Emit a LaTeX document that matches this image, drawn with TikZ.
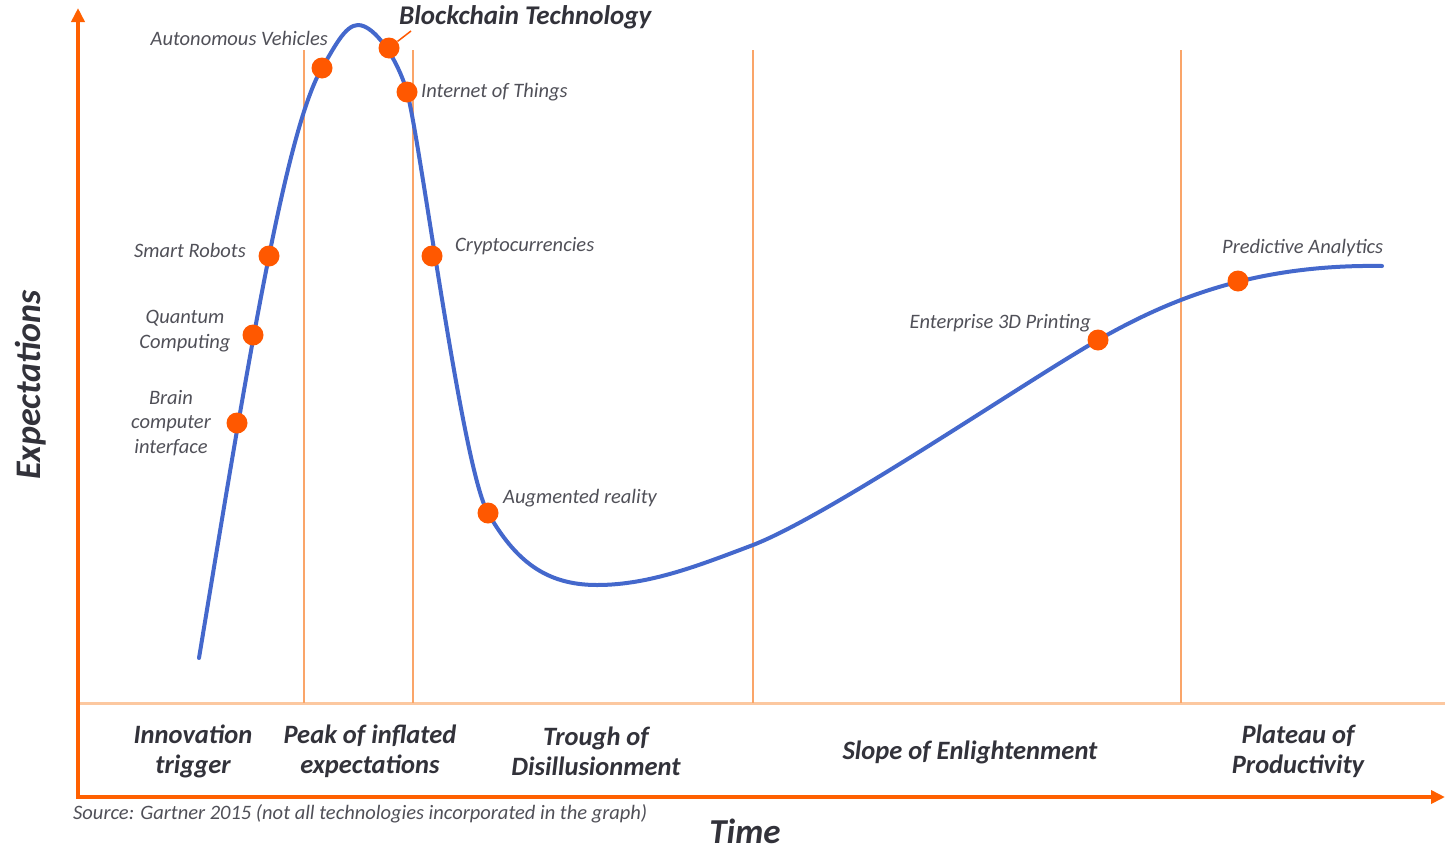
\documentclass[tikz,border=0pt]{standalone}
\usepackage{fontspec}
\setmainfont{Carlito}
\usetikzlibrary{arrows.meta}
\definecolor{curveblue}{RGB}{68,104,204}
\definecolor{dotorange}{RGB}{255,88,0}
\definecolor{axisorange}{RGB}{255,96,0}
\definecolor{phaseline}{RGB}{250,165,105}
\definecolor{baseline}{RGB}{252,200,160}
\definecolor{labelgray}{RGB}{80,80,88}
\definecolor{darkgray}{RGB}{50,50,58}
\tikzset{
  axis/.style={line width=4pt, draw=axisorange, -{Triangle[length=14pt,width=13pt]}},
  phasesep/.style={line width=1.5pt, draw=phaseline},
  basesep/.style={line width=3pt, draw=baseline},
  hype/.style={line width=4pt, draw=curveblue, line join=round, line cap=round},
  dot/.style={circle, fill=dotorange, minimum size=21pt, inner sep=0pt},
  tech/.style={inner sep=0pt, text=labelgray, font=\fontsize{20.5}{24.5}\selectfont\itshape, align=center},
  phase/.style={inner sep=0pt, text=darkgray, font=\fontsize{26.5}{30}\selectfont\bfseries\itshape, align=center},
  leader/.style={line width=1.5pt, draw=dotorange}
}
\begin{document}
\begin{tikzpicture}[x=1pt,y=-1pt]
\useasboundingbox (0,0) rectangle (1445,849);
% axes
\coordinate (O) at (78,797);
\coordinate (Ytop) at (78,8);
\coordinate (Xleft) at (76,797);
\coordinate (Xend) at (1445,797);
% separators
\coordinate (B0) at (80,703);
\coordinate (B1) at (1445,703);
\draw[basesep] (B0) -- (B1);
\foreach \xx/\nm in {304/a,413/b,753/c,1181/d}{
  \coordinate (T\nm) at (\xx,50);
  \coordinate (S\nm) at (\xx,703);
  \draw[phasesep] (T\nm) -- (S\nm);
}
\draw[axis] (O) -- (Ytop);
\draw[axis] (Xleft) -- (Xend);
% hype curve
\draw[hype] (199,658) .. controls (245,380) and (285,130) .. (322,68)
  .. controls (334,48) and (345,25) .. (358,25)
  .. controls (375,25) and (398,60) .. (407,92)
  .. controls (420,138) and (462,468) .. (488,513)
  .. controls (515,560) and (545,585) .. (597,585)
  .. controls (650,585) and (700,565) .. (753,545)
  .. controls (830,515) and (1020,385) .. (1098,340)
  .. controls (1165,302) and (1250,264) .. (1382,266);
% dots
\node[dot] (brain) at (237,423) {};
\node[dot] (quantum) at (253,335) {};
\node[dot] (robots) at (269,256) {};
\node[dot] (auto) at (322,68) {};
\node[dot] (block) at (389,48) {};
\node[dot] (iot) at (407,92) {};
\node[dot] (crypto) at (432,256) {};
\node[dot] (ar) at (488,513) {};
\node[dot] (print) at (1098,340) {};
\node[dot] (pred) at (1238,281) {};
% labels
\node[tech, anchor=east] (lauto) at (328,38) {Autonomous Vehicles};
\node[inner sep=0pt, anchor=west, text=darkgray, font=\fontsize{27}{30}\selectfont\bfseries\itshape] (lblock) at (399,17) {Blockchain Technology};
\coordinate (leadend) at (411,31);
\draw[leader] (block) -- (leadend);
\node[tech, anchor=west] (liot) at (421,92) {Internet of Things};
\node[tech, anchor=east] (lrobots) at (246,250) {Smart Robots};
\node[tech] (lquantum) at (185,331) {Quantum\\Computing};
\node[tech] (lbrain) at (171,423) {Brain\\computer\\interface};
\node[tech, anchor=west] (lcrypto) at (455,246) {Cryptocurrencies};
\node[tech, anchor=west] (lar) at (503,498) {Augmented reality};
\node[tech, anchor=east] (lprint) at (1091,323) {Enterprise 3D Printing};
\node[tech, anchor=west] (lpred) at (1222,248) {Predictive Analytics};
% phases
\node[phase] (p1) at (193,751) {Innovation\\trigger};
\node[phase] (p2) at (370,751) {Peak of inflated\\expectations};
\node[phase] (p3) at (596,751) {Trough of\\Disillusionment};
\node[phase] (p4) at (970,752) {Slope of Enlightenment};
\node[phase] (p5) at (1298,751) {Plateau of\\Productivity};
% source and axis titles
\node[inner sep=0pt, anchor=west, text=labelgray, font=\fontsize{20.5}{24}\selectfont\itshape] (src) at (73,814) {Source: Gartner 2015 (not all technologies incorporated in the graph)};
\node[inner sep=0pt, text=darkgray, font=\fontsize{35}{40}\selectfont\bfseries\itshape] (time) at (745,831) {Time};
\node[inner sep=0pt, text=darkgray, rotate=90, font=\fontsize{36}{40}\selectfont\bfseries\itshape] (expect) at (31,385) {Expectations};
\end{tikzpicture}
\end{document}
